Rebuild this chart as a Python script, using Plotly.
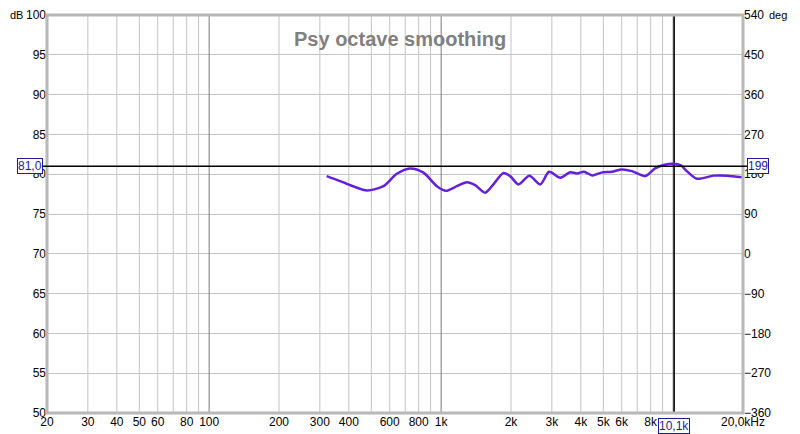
import math
import plotly.graph_objects as go

# ---- data ----
freq_hz = [321, 367, 420, 479, 564, 644, 735, 839, 958, 1050, 1168, 1290, 1401,
           1547, 1680, 1856, 1983, 2154, 2400, 2673, 2920, 3260, 3600, 3846,
           4130, 4480, 4900, 5442, 6011, 6640, 7574, 8356, 9080, 10000, 10800,
           11460, 12650, 14920, 17040, 19780]
spl_db = [79.76, 79.13, 78.45, 77.96, 78.5, 80.06, 80.73, 80.19, 78.5, 77.92,
          78.5, 79.0, 78.63, 77.67, 78.72, 80.15, 79.76, 78.72, 79.82, 78.72,
          80.3, 79.56, 80.25, 80.1, 80.31, 79.85, 80.2, 80.31, 80.6, 80.39,
          79.76, 80.73, 81.15, 81.32, 81.1, 80.39, 79.43, 79.82, 79.82, 79.62]

x_tick_vals = [20, 30, 40, 50, 60, 80, 100, 200, 300, 400, 600, 800, 1000,
               2000, 3000, 4000, 5000, 6000, 8000, 20000]
x_tick_text = ["20", "30", "40", "50", "60", "80", "100", "200", "300", "400",
               "600", "800", "1k", "2k", "3k", "4k", "5k", "6k", "8k", "20,0kHz"]
x_minor_grid = [20, 30, 40, 50, 60, 70, 80, 90, 200, 300, 400, 500, 600, 700,
                800, 900, 2000, 3000, 4000, 5000, 6000, 7000, 8000, 9000, 20000]
x_major_grid = [100, 1000, 10000]

db_ticks = [50, 55, 60, 65, 70, 75, 80, 85, 90, 95, 100]
deg_ticks = [-360, -270, -180, -90, 0, 90, 180, 270, 360, 450, 540]

cursor_freq = 10100
cursor_db = 81.0
cursor_deg_label = "199"
title_text = "Psy octave smoothing"

FONT = "Liberation Sans, Arial, sans-serif"
GRID = "#c4c4c4"
BLUE = "#1c1ca0"

fig = go.Figure()

# grid lines (drawn as traces through the axes)
for f in x_minor_grid:
    fig.add_trace(go.Scatter(x=[f, f], y=[50, 100], mode="lines",
                             line=dict(color=GRID, width=1), hoverinfo="skip",
                             showlegend=False))
for f in x_major_grid:
    fig.add_trace(go.Scatter(x=[f, f], y=[50, 100], mode="lines",
                             line=dict(color="#7a7a7a", width=1), hoverinfo="skip",
                             showlegend=False))

# cursor vertical line
fig.add_trace(go.Scatter(x=[cursor_freq, cursor_freq], y=[50, 100], mode="lines",
                         line=dict(color="black", width=1.5), hoverinfo="skip",
                         showlegend=False))

# response curve
fig.add_trace(go.Scatter(x=freq_hz, y=spl_db, mode="lines",
                         line=dict(color="#6420dc", width=2.5, shape="spline",
                                   smoothing=0.8),
                         showlegend=False))

# dummy trace for deg axis
fig.add_trace(go.Scatter(x=[1000], y=[0], yaxis="y2", mode="markers",
                         marker=dict(opacity=0), hoverinfo="skip",
                         showlegend=False))

# the page body adds an 8 px offset, so margins are reduced accordingly
fig.update_layout(
    width=800, height=434,
    margin=dict(l=39, r=65, t=7, b=29, autoexpand=False),
    paper_bgcolor="white", plot_bgcolor="white",
    font=dict(family=FONT, size=12, color="black"),
    xaxis=dict(type="log", range=[math.log10(20), math.log10(20000)],
               tickvals=x_tick_vals, ticktext=x_tick_text, automargin=False,
               showgrid=False, zeroline=False, ticks="", showline=False,
               tickfont=dict(size=12)),
    yaxis=dict(range=[50, 100], tickvals=db_ticks, showgrid=True,
               gridcolor=GRID, gridwidth=1, zeroline=False, ticks="",
               showline=False, tickfont=dict(size=12), automargin=False),
    yaxis2=dict(range=[-360, 540], tickvals=deg_ticks, overlaying="y",
                side="right", showgrid=False, zeroline=False, ticks="",
                showline=False, tickfont=dict(size=12), automargin=False),
)

# plot frame
fig.add_shape(type="rect", xref="paper", yref="paper", x0=0, x1=1, y0=0, y1=1,
              line=dict(color="#b8b8b8", width=3), layer="above")

# horizontal cursor line (extends slightly outside to the labels)
fig.add_shape(type="line", xref="paper", yref="y", x0=-0.006, x1=1.006,
              y0=cursor_db, y1=cursor_db, line=dict(color="black", width=1.5),
              layer="above")

# axis unit labels (kept beside the top tick labels so they stay visible)
fig.add_annotation(text="dB", xref="paper", yref="paper", x=0, y=1.0,
                   xanchor="right", xshift=-22, yanchor="middle", yshift=0,
                   showarrow=False, font=dict(size=11, color="black"))
fig.add_annotation(text="deg", xref="paper", yref="paper", x=1, y=1.0,
                   xanchor="left", xshift=24, yanchor="middle", yshift=0,
                   showarrow=False, font=dict(size=11, color="black"))

# title
fig.add_annotation(text="<b>" + title_text + "</b>", xref="paper", yref="paper",
                   x=0.507, y=0.972, showarrow=False,
                   font=dict(size=20, color="#808080"))

# cursor value boxes
box = dict(showarrow=False, bgcolor="white", bordercolor=BLUE, borderwidth=1,
           borderpad=0, font=dict(size=12, color=BLUE))
fig.add_annotation(text="81,0", xref="paper", yref="y", x=-0.006, y=cursor_db,
                   xanchor="right", **box)
fig.add_annotation(text=cursor_deg_label, xref="paper", yref="y", x=1.006,
                   y=cursor_db, xanchor="left", **box)
fig.add_annotation(text="10,1k", xref="x", yref="paper",
                   x=math.log10(cursor_freq), y=-0.012, yanchor="top", **box)

fig.write_html("out.html")
